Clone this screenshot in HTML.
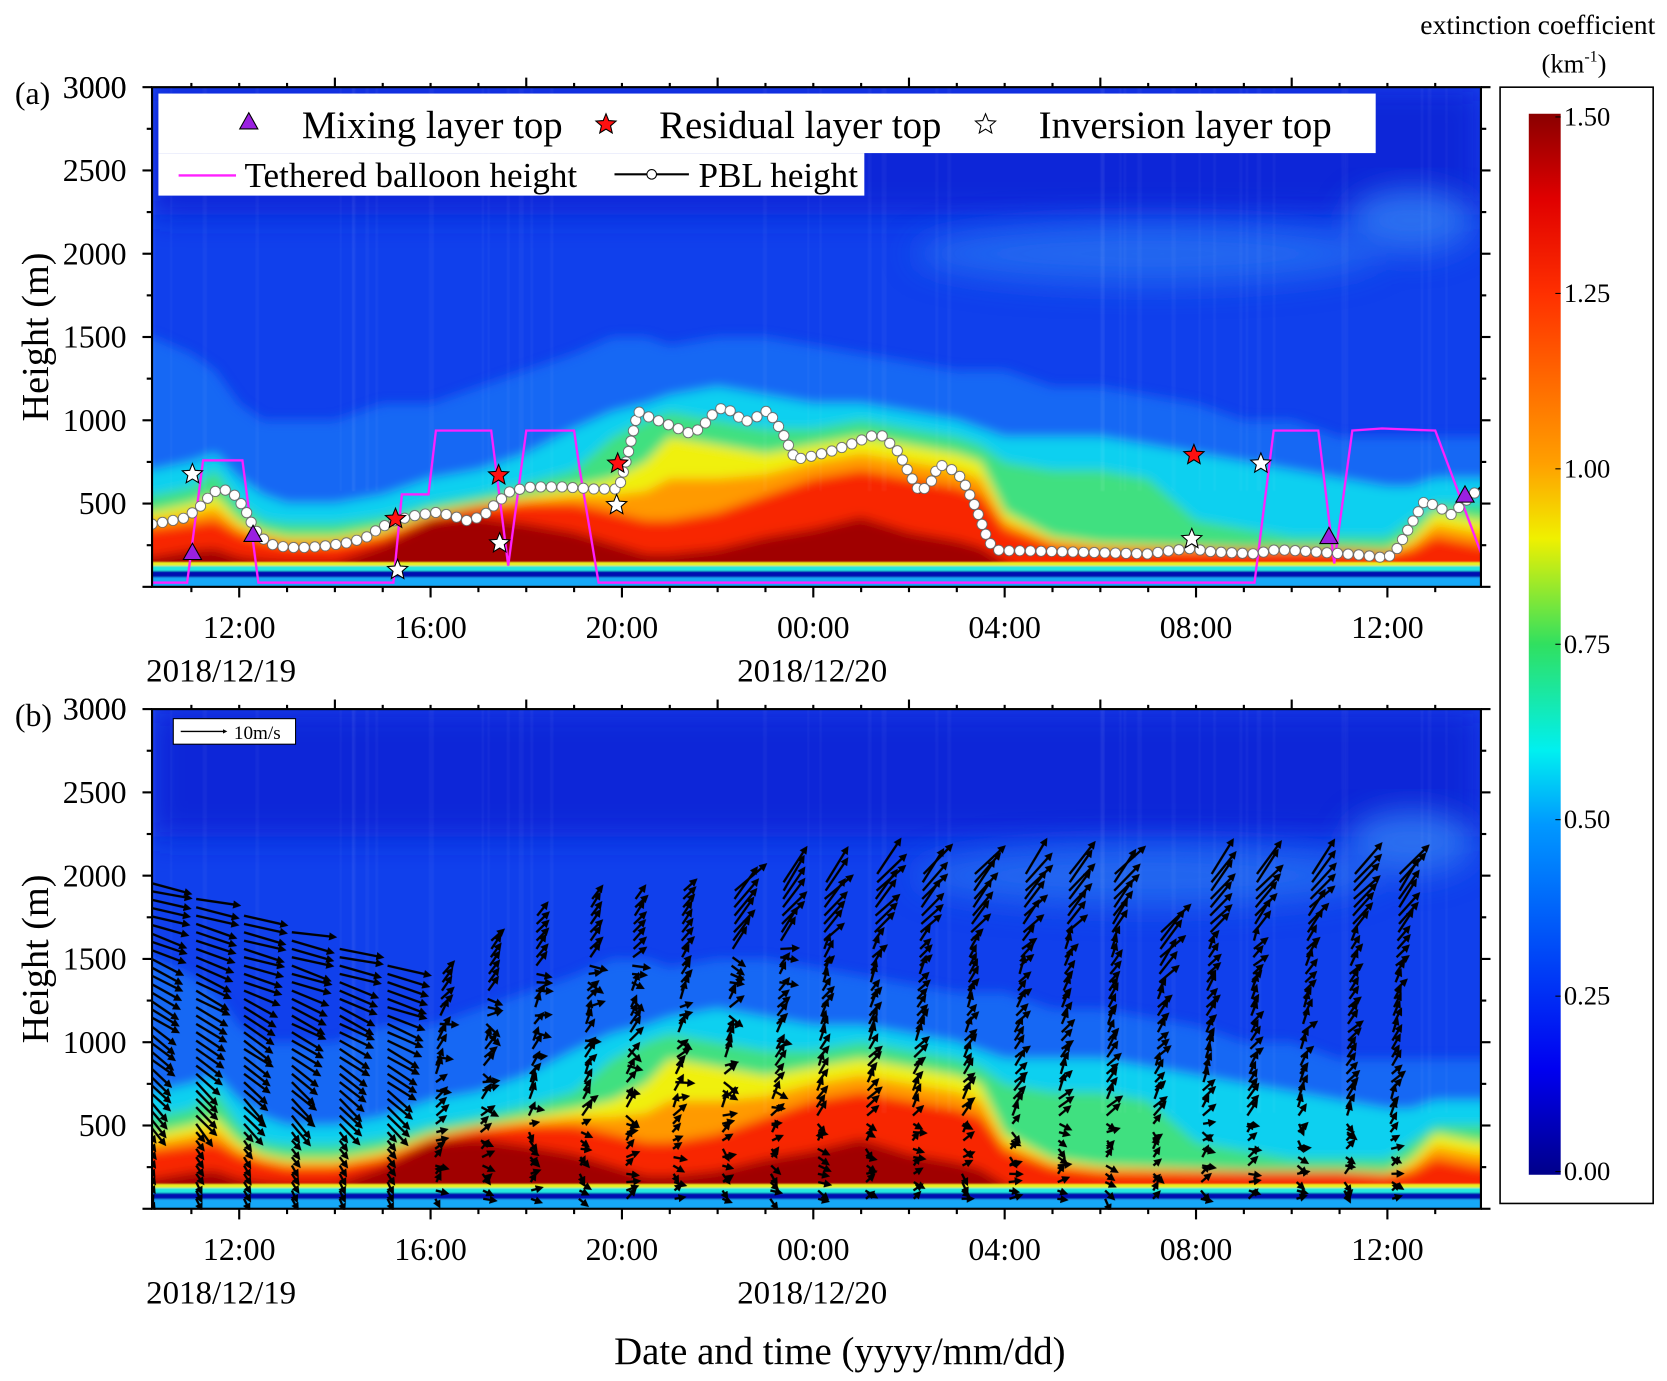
<!DOCTYPE html>
<html><head><meta charset="utf-8"><style>
html,body{margin:0;padding:0;background:#fff;}
svg{display:block;}
text{font-family:"Liberation Serif",serif;fill:#000;}
</style></head><body>
<svg id="s" width="1667" height="1381" viewBox="0 0 1568 1299" xmlns="http://www.w3.org/2000/svg">
<defs>
<filter id="bl" x="-5%" y="-5%" width="110%" height="110%"><feGaussianBlur stdDeviation="5"/></filter>
<filter id="bl2"><feGaussianBlur stdDeviation="0.8"/></filter>
<filter id="bl3" x="-20%" y="-50%" width="140%" height="200%"><feGaussianBlur stdDeviation="14"/></filter>
<clipPath id="ca"><rect x="143" y="82" width="1250" height="470"/></clipPath>
<clipPath id="cb"><rect x="143" y="667" width="1250" height="471"/></clipPath>
<linearGradient id="cbg" x1="0" y1="1" x2="0" y2="0">
<stop offset="0" stop-color="#00008a"/><stop offset="0.1" stop-color="#0000f0"/><stop offset="0.33" stop-color="#0098ff"/>
<stop offset="0.4" stop-color="#00f0f0"/><stop offset="0.5" stop-color="#30e060"/><stop offset="0.6" stop-color="#f0f000"/>
<stop offset="0.67" stop-color="#ffa000"/><stop offset="0.83" stop-color="#ff3000"/><stop offset="0.92" stop-color="#e00000"/><stop offset="1" stop-color="#8a0000"/>
</linearGradient>
<marker id="ah" markerWidth="3.5" markerHeight="3.5" refX="2" refY="1.75" orient="auto" markerUnits="strokeWidth"><path d="M0,0 L3.5,1.75 L0,3.5 z" fill="#000"/></marker>
</defs>
<g id="heat" clip-path="url(#ca)"></g>
<use href="#heat" transform="translate(0,585)"/>
<g id="over"></g>
</svg>
<script>
const NS="http://www.w3.org/2000/svg";
function el(p,tag,a,txt){const e=document.createElementNS(NS,tag);for(const k in a)e.setAttribute(k,a[k]);if(txt!==undefined)e.textContent=txt;p.appendChild(e);return e;}
const X=t=>225+(t-12)*45;
const Ya=h=>552-h*0.15667;
const T=[10.2,11,11.5,12,12.5,13,14,15,16,17,18,19,19.8,20.5,21,22,23,24,25,26,27,27.5,28,29,30,31,32,33,34,35,36,36.5,37,37.9];
const LB=[1500,1400,1300,1100,1000,1000,1000,1100,1100,1200,1300,1400,1500,1500,1450,1500,1500,1450,1400,1350,1300,1300,1300,1200,1200,1150,1100,1000,1000,900,900,900,900,900];
const CY=[700,750,800,650,550,500,500,550,650,700,800,950,1050,1100,1150,1200,1150,1100,1100,1050,1000,950,900,900,900,850,800,750,700,650,600,600,650,650];
const GR=[550,600,700,500,400,380,380,420,500,550,620,700,900,1000,1050,1000,950,950,1000,950,900,850,750,700,700,650,400,350,300,300,300,400,500,500];
const YE=[450,500,550,400,330,300,300,350,450,500,550,600,650,750,900,850,800,850,900,850,800,750,450,300,260,250,240,230,230,230,220,300,450,400];
const RE=[350,380,400,320,280,250,250,300,420,480,500,500,450,400,400,450,550,650,700,650,600,550,350,250,220,220,220,220,220,220,200,220,300,250];
const OR=YE.map((v,i)=>(v+RE[i])/2);
const DR=[180,220,230,180,160,150,150,250,400,420,380,330,260,200,200,230,300,350,420,330,280,240,150,0,0,0,0,0,0,0,0,0,0,0];
const heat=document.getElementById('heat');
el(heat,'rect',{x:143,y:82,width:1250,height:470,fill:'#1040ec'});
el(heat,'rect',{x:143,y:82,width:1250,height:120,fill:'#0a28d8',filter:'url(#bl3)'});
const hg=el(heat,'g',{filter:'url(#bl)'});
el(hg,'ellipse',{cx:X(31),cy:Ya(2000),rx:220,ry:28,fill:'#2068f0',filter:'url(#bl3)'});
el(hg,'ellipse',{cx:X(36.5),cy:Ya(2200),rx:60,ry:30,fill:'#2a70f0',filter:'url(#bl3)'});
function layer(arr,col){let d='M'+X(9)+','+Ya(-100);d+=' L'+X(9)+','+Ya(arr[0]);for(let i=0;i<T.length;i++)d+=' L'+X(T[i]).toFixed(1)+','+Ya(arr[i]).toFixed(1);d+=' L'+X(39)+','+Ya(arr[arr.length-1])+' L'+X(39)+','+Ya(-100)+'z';el(hg,'path',{d:d,fill:col});}
layer(LB,'#1868f4');layer(CY,'#10d0f0');layer(GR,'#40e080');layer(YE,'#f0f010');layer(OR,'#ff9a00');layer(RE,'#f82800');layer(DR,'#a00000');
let sd=3;const r2=()=>{sd=(sd*16807)%2147483647;return sd/2147483647;};
for(let i=0;i<40;i++){const x=143+r2()*1250;el(heat,'rect',{x:x,y:82,width:2+r2()*3,height:380,fill:'#ffffff',opacity:0.035,filter:'url(#bl2)'});}
const bb=el(heat,'g',{filter:'url(#bl2)'});
el(bb,'rect',{x:143,y:Ya(150),width:1250,height:4,fill:'#e8f020'});
el(bb,'rect',{x:143,y:Ya(125),width:1250,height:5,fill:'#20e8e0'});
el(bb,'rect',{x:143,y:Ya(95),width:1250,height:6,fill:'#0010b0'});
el(bb,'rect',{x:143,y:Ya(58),width:1250,height:20,fill:'#18a8f8'});
const o=document.getElementById('over');
const wg=el(o,'g',{'clip-path':'url(#cb)',stroke:'#000','stroke-width':2.2,fill:'none'});
const Yb=h=>1137-h*0.15667;
let seed=7;const rnd=()=>{seed=(seed*16807)%2147483647;return seed/2147483647;};
for(let c=0;c<27;c++){
 const t=10.1+c*1.0;const x0=X(t);
 let top = t<15.5? 2000-(t-10)*100 : (t<18.5? 1350+(t-15.5)*170 : Math.min(2050,1850+(t-18.5)*25));
 if(t>=30.5&&t<31.5)top=1700;
 let drift=0;
 for(let h=60;h<=top;h+=50){
  let ang,len;const f=h/top;
  if(t<15.5){ ang=(10+(1-f)*55+(rnd()-0.5)*10)*Math.PI/180; len=h<500?10:18+f*22; }
  else {
   if(h<550){ang=(rnd()-0.5)*2.4; len=7+rnd()*4;}
   else if(f<0.8){ang=-(35+rnd()*40)*Math.PI/180; if(t<24&&rnd()<0.4)ang=(rnd()-0.3)*1.2; len=10+rnd()*6;}
   else {ang=-(40+rnd()*20)*Math.PI/180; len=t>22?22+(f-0.8)*80:14;}
  }
  const xs=x0+drift, ys=Yb(h);
  el(wg,'line',{x1:xs.toFixed(1),y1:ys.toFixed(1),x2:(xs+len*Math.cos(ang)).toFixed(1),y2:(ys+len*Math.sin(ang)).toFixed(1),'marker-end':'url(#ah)'});
  if(t>=15.5) drift+=(h>600?0.35:0.05)+(rnd()-0.5)*1.2;
 }
}
el(o,'rect',{x:163,y:676,width:115,height:24,fill:'#fff',stroke:'#000','stroke-width':1});
el(o,'line',{x1:170,y1:688,x2:212,y2:688,stroke:'#000','stroke-width':1.2,'marker-end':'url(#ah)'});
el(o,'text',{x:220,y:695,'font-size':18},'10m/s');
const tb=[[143,548],[176,548],[191,433],[228,433],[243,548],[370,548],[378,465],[403,465],[410,405],[462,405],[478,532],[495,405],[540,405],[545,440],[563,548],[1180,548],[1198,405],[1240,405],[1255,530],[1272,405],[1300,403],[1350,405],[1393,520]];
el(o,'polyline',{points:tb.map(p=>p.join(',')).join(' '),fill:'none',stroke:'#ff20ff','stroke-width':2.2,'clip-path':'url(#ca)'});
const pb=[[143,493],[160,490],[175,487],[190,475],[200,463],[210,460],[220,465],[230,478],[238,495],[245,505],[255,512],[270,515],[290,515],[310,513],[330,510],[345,505],[355,498],[370,490],[390,485],[410,482],[425,485],[440,490],[455,485],[465,475],[480,462],[500,458],[530,458],[560,460],[582,460],[590,430],[600,387],[610,392],[630,400],[650,408],[660,402],[670,390],[680,383],[690,388],[700,397],[712,392],[722,386],[735,405],[748,432],[760,430],[780,425],[800,418],[820,410],[830,410],[845,425],[855,445],[865,463],[875,455],[883,437],[893,440],[905,450],[918,478],[930,510],[940,518],[960,518],[1000,519],[1040,520],[1080,521],[1100,518],[1120,516],[1140,519],[1180,521],[1200,517],[1220,518],[1250,520],[1280,522],[1305,525],[1315,515],[1325,497],[1340,471],[1355,478],[1365,484],[1380,470],[1393,458]];
el(o,'polyline',{points:pb.map(p=>p.join(',')).join(' '),fill:'none',stroke:'#000','stroke-width':2,'clip-path':'url(#ca)'});
let acc=0;const dots=[pb[0]];const SP=10;
for(let i=1;i<pb.length;i++){const dx=pb[i][0]-pb[i-1][0],dy=pb[i][1]-pb[i-1][1];const L=Math.hypot(dx,dy);let p=SP-acc;while(p<=L){dots.push([pb[i-1][0]+dx*p/L,pb[i-1][1]+dy*p/L]);p+=SP;}acc=L-(p-SP);}
const dg=el(o,'g',{'clip-path':'url(#ca)'});
dots.forEach(d=>el(dg,'circle',{cx:d[0].toFixed(1),cy:d[1].toFixed(1),r:4.8,fill:'#fff',stroke:'#666','stroke-width':0.8}));
function star(cx,cy,r,fill){let d='';for(let i=0;i<10;i++){const a=-Math.PI/2+i*Math.PI/5;const rr=i%2?r*0.45:r;d+=(i?'L':'M')+(cx+rr*Math.cos(a)).toFixed(1)+','+(cy+rr*Math.sin(a)).toFixed(1);}el(o,'path',{d:d+'z',fill:fill,stroke:'#000','stroke-width':1});}
function tri(cx,cy,r){el(o,'path',{d:`M${cx},${cy-r} L${cx+r*0.95},${cy+r*0.7} L${cx-r*0.95},${cy+r*0.7}z`,fill:'#9a20e0',stroke:'#000','stroke-width':1});}
[[181,520],[238,503],[1250,505],[1378,466]].forEach(p=>tri(p[0],p[1],9));
[[372,488],[469,447],[581,436],[1123,428]].forEach(p=>star(p[0],p[1],10,'#ff1010'));
[[181,446],[374,536],[470,511],[580,475],[1121,507],[1186,436]].forEach(p=>star(p[0],p[1],10,'#fff'));
el(o,'rect',{x:149,y:88,width:1145,height:56,fill:'#fff'});
el(o,'rect',{x:149,y:144,width:664,height:40,fill:'#fff'});
tri(234,115,9);star(570,117,10,'#ff1010');star(927,117,10,'#fff');
el(o,'text',{x:284,y:130,'font-size':36.5},'Mixing layer top');
el(o,'text',{x:620,y:130,'font-size':36.5},'Residual layer top');
el(o,'text',{x:977,y:130,'font-size':36.5},'Inversion layer top');
el(o,'line',{x1:168,y1:165,x2:222,y2:165,stroke:'#ff20ff','stroke-width':2.2});
el(o,'text',{x:230,y:176,'font-size':33},'Tethered balloon height');
el(o,'line',{x1:578,y1:164,x2:648,y2:164,stroke:'#000','stroke-width':2});
el(o,'circle',{cx:613,cy:164,r:4.5,fill:'#fff',stroke:'#000','stroke-width':1});
el(o,'text',{x:657,y:176,'font-size':33},'PBL height');
function axes(top,bot,lbl){
 el(o,'rect',{x:143,y:top,width:1250,height:bot-top,fill:'none',stroke:'#000','stroke-width':2});
 for(let h=0;h<=3000;h+=250){const y=bot-h*0.15667;const maj=h%500==0;
  el(o,'line',{x1:143-(maj?9:5),y1:y,x2:143,y2:y,stroke:'#000','stroke-width':2});
  el(o,'line',{x1:1393,y1:y,x2:1393+(maj?9:5),y2:y,stroke:'#000','stroke-width':2});
  if(maj&&h>0)el(o,'text',{x:119,y:y+10,'font-size':30,'text-anchor':'end'},String(h));}
 el(o,'text',{x:119,y:top+10,'font-size':30,'text-anchor':'end'},'3000');
 const labs=['12:00','16:00','20:00','00:00','04:00','08:00','12:00'];
 for(let t=11;t<=37;t++){const x=X(t);const maj=(t%4==0);
  el(o,'line',{x1:x,y1:bot,x2:x,y2:bot+(maj?10:5),stroke:'#000','stroke-width':2});
  if((t+2)%4==0){el(o,'line',{x1:x,y1:top,x2:x,y2:top-9,stroke:'#000','stroke-width':2});}
  else el(o,'line',{x1:x,y1:top,x2:x,y2:top-4,stroke:'#000','stroke-width':2});
  if(maj)el(o,'text',{x:x,y:bot+48,'font-size':30,'text-anchor':'middle'},labs[(t-12)/4]);}
 el(o,'text',{x:208,y:bot+89,'font-size':31,'text-anchor':'middle'},'2018/12/19');
 el(o,'text',{x:764,y:bot+89,'font-size':31,'text-anchor':'middle'},'2018/12/20');
 el(o,'text',{x:14,y:top+16,'font-size':30},lbl);
 el(o,'text',{transform:`translate(45,${(top+bot)/2}) rotate(-90)`,'font-size':36,'text-anchor':'middle'},'Height (m)');
}
axes(82,552,'(a)');axes(667,1137,'(b)');
el(o,'text',{x:790,y:1283,'font-size':36.5,'text-anchor':'middle'},'Date and time (yyyy/mm/dd)');
el(o,'rect',{x:1411,y:82,width:144,height:1050,fill:'#fff',stroke:'#000','stroke-width':1.5});
el(o,'rect',{x:1438,y:107,width:30,height:998,fill:'url(#cbg)'});
[['1.50',110],['1.25',276],['1.00',441],['0.75',606],['0.50',771],['0.25',937],['0.00',1102]].forEach(a=>{
 el(o,'line',{x1:1463,y1:a[1],x2:1468,y2:a[1],stroke:'#000','stroke-width':1});
 el(o,'text',{x:1471,y:a[1]+8,'font-size':25},a[0]);});
el(o,'text',{x:1557,y:32,'font-size':26,'text-anchor':'end'},'extinction coefficient');
const km=el(o,'text',{x:1450,y:68,'font-size':25});
km.innerHTML='(km<tspan font-size="15" dy="-10">-1</tspan><tspan dy="10">)</tspan>';
</script>
</body></html>
